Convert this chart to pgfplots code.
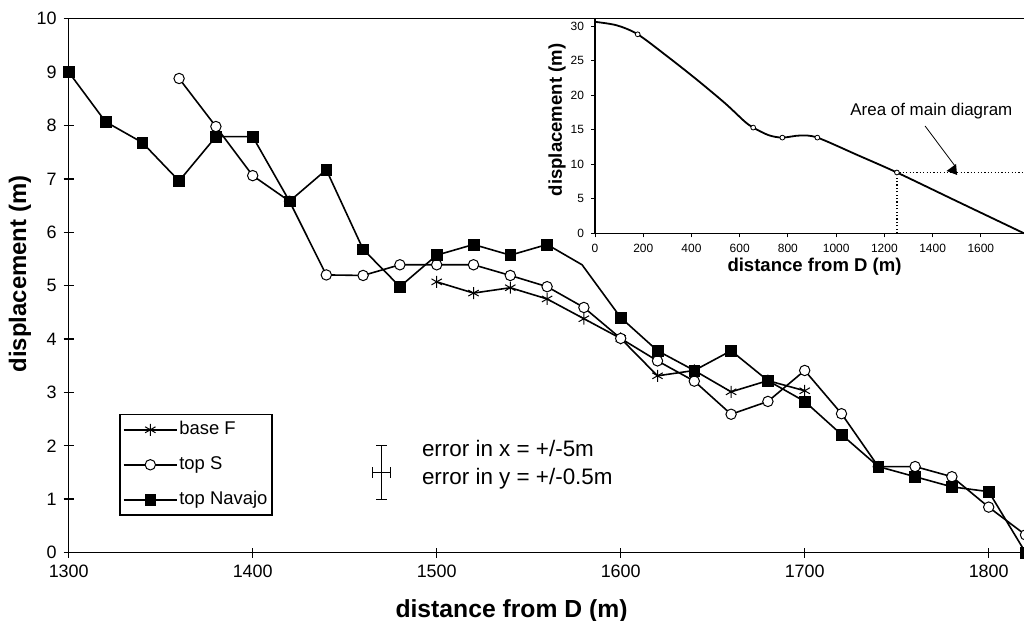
\documentclass[border=0pt]{standalone}
\usepackage{pgfplots}
\pgfplotsset{compat=1.18}
\usepackage{fontspec}
\setmainfont{Liberation Sans}
\begin{document}
\begin{tikzpicture}
\begin{axis}[
  at={(0bp,0bp)}, anchor=south west,
  scale only axis, width=478.4bp, height=266.9bp,
  xmin=1300, xmax=1820, ymin=0, ymax=10,
  xtick={1300,1400,1500,1600,1700,1800},
  ytick={0,1,2,3,4,5,6,7,8,9,10},
  xtick pos=bottom, ytick pos=left,
  tick align=center, major tick length=5bp,
  axis line style={line width=0.7bp},
  every tick/.style={black, line width=0.7bp},
  clip=false,
  ticklabel style={font=\fontsize{9}{10}\selectfont},
  /pgf/number format/assume math mode=true,
  /pgf/number format/1000 sep={},
  xlabel={distance from D (m)},
  ylabel={displacement (m)},
  xlabel style={at={(axis description cs:0.4628,-0.1092)}, anchor=center, font=\bfseries\fontsize{12.4}{14}\selectfont},
  ylabel style={at={(axis description cs:-0.0509,0.5217)}, anchor=center, font=\bfseries\fontsize{12}{14}\selectfont},
  legend cell align=left,
  legend image code/.code={\draw[#1, mark indices={2}] plot coordinates {(0bp,0bp)(13.3bp,0bp)(26.6bp,0bp)};},
  legend style={font=\fontsize{9.25}{10}\selectfont, draw=black, line width=0.6bp,
    at={(0.0529,0.2595)}, anchor=north west, inner xsep=1.5bp, inner ysep=2.3bp,
    nodes={inner sep=0.8bp, text height=7bp, text depth=2bp}, row sep=6.9bp},
]
\addplot[black, line width=0.8bp, mark=asterisk, mark size=3bp, mark options={line width=0.5bp}]
  coordinates {(1500,5.07)(1520,4.86)(1540,4.96)(1560,4.75)(1580,4.38)(1600,4.01)(1620,3.31)(1640,3.41)(1660,3.01)(1680,3.22)(1700,3.03)};
\addlegendentry{base F}
\addplot[black, line width=0.8bp, mark=*, mark size=2.6bp, mark options={fill=white, line width=0.5bp}]
  coordinates {(1360,8.88)(1380,7.98)(1400,7.06)(1420,6.58)(1440,5.2)(1460,5.19)(1480,5.39)(1500,5.39)(1520,5.39)(1540,5.19)(1560,4.98)(1580,4.59)(1600,4.01)(1620,3.59)(1640,3.21)(1660,2.59)(1680,2.83)(1700,3.41)(1720,2.6)(1740,1.61)(1760,1.61)(1780,1.42)(1800,0.85)(1820,0.33)};
\addlegendentry{top S}
\addplot[black, line width=0.8bp, mark=square*, mark size=2.7bp, mark options={fill=black, line width=0.3bp},
  mark indices={1,2,3,4,5,6,7,8,9,10,11,12,13,14,16,17,18,19,20,21,22,23,24,25,26,27}]
  coordinates {(1300,9.0)(1320,8.07)(1340,7.68)(1360,6.96)(1380,7.79)(1400,7.79)(1420,6.58)(1440,7.17)(1460,5.68)(1480,4.98)(1500,5.57)(1520,5.77)(1540,5.57)(1560,5.77)(1579,5.39)(1600,4.4)(1620,3.78)(1640,3.41)(1660,3.78)(1680,3.22)(1700,2.83)(1720,2.21)(1740,1.61)(1760,1.42)(1780,1.23)(1800,1.14)(1820,0)};
\addlegendentry{top Navajo}
\addplot[forget plot, draw=none, no marks,
  error bars/.cd, x dir=both, x explicit, y dir=both, y explicit,
  error mark=-,
  error bar style={draw=black, solid, line width=0.6bp},
  error mark options={draw=black, solid, mark size=2.6bp, line width=0.6bp, rotate=90}]
  coordinates {(1470,1.5) +- (5,0.5)};
\node[anchor=base west, inner sep=0, font=\fontsize{11.25}{13}\selectfont] at (axis cs:1491.8,1.794) {error in x = +/-5m};
\node[anchor=base west, inner sep=0, font=\fontsize{11.25}{13}\selectfont] at (axis cs:1491.8,1.273) {error in y = +/-0.5m};
\end{axis}
\begin{axis}[
  at={(263.15bp,159.6bp)}, anchor=south west,
  scale only axis, width=214.5bp, height=107.1bp,
  xmin=0, xmax=1779, ymin=0, ymax=31,
  axis x line=bottom, axis y line=left,
  axis line style={-, line width=0.6bp},
  xtick={0,200,400,600,800,1000,1200,1400,1600},
  ytick={0,5,10,15,20,25,30},
  tick align=outside, major tick length=2bp,
  every tick/.style={black, line width=0.5bp},
  ticklabel style={font=\fontsize{6}{7}\selectfont},
  /pgf/number format/assume math mode=true,
  /pgf/number format/1000 sep={},
  clip=false,
  xlabel={distance from D (m)},
  ylabel={displacement (m)},
  xlabel style={at={(axis description cs:0.5117,-0.156)}, anchor=center, font=\bfseries\fontsize{9.3}{11}\selectfont},
  ylabel style={at={(axis description cs:-0.0886,0.529)}, anchor=center, font=\bfseries\fontsize{9.3}{11}\selectfont},
]
\addplot[black, line width=0.9bp, smooth, tension=0.5]
  coordinates {(0,30.6)(90,30.1)(177,28.8)(300,25.6)(420,22.3)(540,18.8)(620,16.2)(656,15.3)(720,14.2)(777,13.85)(850,14.15)(922,13.85)(1090,11.3)(1252,8.8)(1500,4.65)(1779,0)};
\addplot[black, line width=0.4bp, only marks, mark=*, mark size=1.2bp, mark options={fill=white}]
  coordinates {(177,28.8)(656,15.3)(777,13.85)(922,13.85)(1252,8.8)};
\draw[black, line width=0.6bp, dash pattern=on 0.6bp off 1.1bp] (axis cs:1252,0) -- (axis cs:1252,8.6);
\draw[black, line width=0.6bp, dash pattern=on 0.6bp off 1.1bp] (axis cs:1262,8.8) -- (axis cs:1779,8.8);
\draw[black, line width=0.4bp] (axis cs:1368.7,15.53) -- (axis cs:1493,9.74);
\fill[black] (axis cs:1457.9,9.02) -- (axis cs:1497.3,10.03) -- (axis cs:1501.5,8.44) -- cycle;
\node[anchor=base west, inner sep=0, font=\fontsize{8.5}{10}\selectfont] at (axis cs:1057.6,17.1) {Area of main diagram};
\end{axis}
\pgfresetboundingbox
\path[use as bounding box] (-34.35bp,-34.25bp) rectangle (477.65bp,276.25bp);
\end{tikzpicture}
\end{document}
